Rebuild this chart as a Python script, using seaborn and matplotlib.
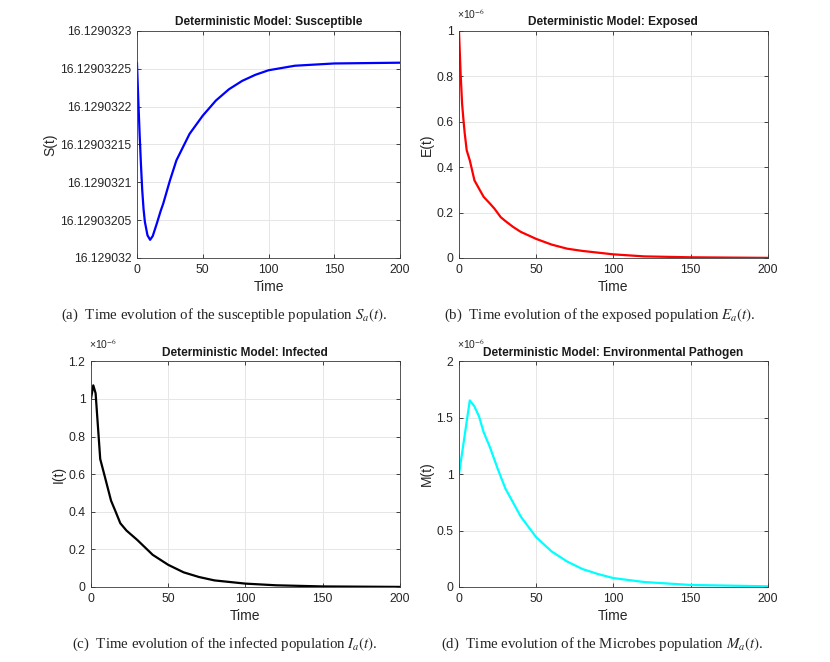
import numpy as np
import matplotlib
matplotlib.use("Agg")
import matplotlib.pyplot as plt
import seaborn as sns
from matplotlib.ticker import FuncFormatter

# time points
t_s = [0, 1, 2, 3, 4, 5, 6, 8, 10, 12, 15, 18, 20, 25, 30, 40, 50, 60, 70, 80, 90, 100, 120, 150, 200]
# S(t) above 16.129032, in units of 1e-8
s_off = [25.8, 21.0, 16.5, 12.5, 9.0, 6.5, 4.8, 3.0, 2.4, 2.9, 4.5, 6.2, 7.2, 10.2, 12.9, 16.4, 18.8, 20.8,
         22.3, 23.4, 24.2, 24.8, 25.4, 25.7, 25.8]
s_base = 16.129032

t_e = [0, 1, 2, 3, 3.7, 5, 7, 10, 13, 16, 20, 23, 27, 30, 35, 40, 50, 60, 70, 80, 100, 120, 150, 200]
e_vals = [1.0, 0.82, 0.68, 0.6, 0.55, 0.474, 0.43, 0.342, 0.305, 0.269, 0.24, 0.217, 0.18, 0.163, 0.137,
          0.115, 0.084, 0.059, 0.041, 0.031, 0.016, 0.007, 0.003, 0.0005]

t_i = [0, 1.5, 3, 6, 9, 13, 16, 19, 23, 30, 40, 50, 60, 70, 80, 100, 120, 150, 200]
i_vals = [1.0, 1.072, 1.03, 0.68, 0.586, 0.459, 0.40, 0.339, 0.30, 0.25, 0.171, 0.118, 0.078, 0.053, 0.035,
          0.018, 0.009, 0.003, 0.0005]

t_m = [0, 7, 10, 13, 16, 20, 25, 30, 40, 50, 60, 70, 80, 90, 100, 120, 150, 200]
m_vals = [1.0, 1.653, 1.6, 1.51, 1.37, 1.24, 1.05, 0.874, 0.624, 0.441, 0.315, 0.226, 0.159, 0.115, 0.079,
          0.044, 0.018, 0.006]

sns.set_style("ticks")
plt.rcParams['font.family'] = ['Liberation Sans', 'DejaVu Sans']
plt.rcParams['mathtext.fontset'] = 'stix'

fig = plt.figure(figsize=(8.3, 6.62), dpi=100)
ax_s = fig.add_axes([0.165, 0.6103, 0.317, 0.343])
ax_e = fig.add_axes([0.553, 0.6103, 0.372, 0.343])
ax_i = fig.add_axes([0.1096, 0.1133, 0.372, 0.341])
ax_m = fig.add_axes([0.553, 0.1133, 0.372, 0.341])

panels = [
    (ax_s, t_s, [s_base + v * 1e-8 for v in s_off], "blue", "S(t)", "Deterministic Model: Susceptible"),
    (ax_e, t_e, e_vals, "red", "E(t)", "Deterministic Model: Exposed"),
    (ax_i, t_i, i_vals, "black", "I(t)", "Deterministic Model: Infected"),
    (ax_m, t_m, m_vals, "cyan", "M(t)", "Deterministic Model: Environmental Pathogen"),
]

for ax, t, y, col, ylab, title in panels:
    sns.lineplot(x=t, y=y, ax=ax, color=col, linewidth=1.6)
    ax.set_xlim(0, 200)
    ax.set_xticks([0, 50, 100, 150, 200])
    ax.grid(True, color='#e6e6e6', linewidth=0.7)
    ax.tick_params(direction='in', top=True, right=True, labelsize=8.7, length=3, pad=4,
                   color='#262626', labelcolor='#262626', width=0.6)
    for sp in ax.spines.values():
        sp.set_color('#3a3a3a')
        sp.set_linewidth(0.6)
    ax.set_xlabel("Time", fontsize=10, labelpad=3, color='#262626')
    ax.set_ylabel(ylab, fontsize=10, labelpad=2, color='#262626')
    ax.set_title(title, fontsize=8.6, fontweight='bold', pad=4, color='#1a1a1a')

# susceptible axis
s_ticks = [s_base + k * 5e-8 for k in range(7)]
ax_s.set_ylim(s_ticks[0], s_ticks[-1])
ax_s.set_yticks(s_ticks)
ax_s.yaxis.set_major_formatter(FuncFormatter(lambda v, p: ("%.8f" % v).rstrip('0').rstrip('.')))

g = FuncFormatter(lambda v, p: "%g" % round(v, 6))
ax_e.set_ylim(0, 1)
ax_e.set_yticks(np.arange(0, 1.01, 0.2))
ax_i.set_ylim(0, 1.2)
ax_i.set_yticks(np.arange(0, 1.21, 0.2))
ax_m.set_ylim(0, 2)
ax_m.set_yticks(np.arange(0, 2.01, 0.5))
for ax in (ax_e, ax_i, ax_m):
    ax.yaxis.set_major_formatter(g)
    ax.text(-0.005, 1.075, "×10$^{-6}$", transform=ax.transAxes, ha='left', va='center',
            fontsize=7.5, color='#262626')

captions = [
    (0.27, 0.524, "(a)  Time evolution of the susceptible population $S_a(t)$."),
    (0.723, 0.524, "(b)  Time evolution of the exposed population $E_a(t)$."),
    (0.271, 0.026, "(c)  Time evolution of the infected population $I_a(t)$."),
    (0.725, 0.026, "(d)  Time evolution of the Microbes population $M_a(t)$."),
]
for x, y, txt in captions:
    fig.text(x, y, txt, ha='center', va='center', fontsize=10.7,
             family=['Liberation Serif', 'DejaVu Serif'])

fig.savefig("out.png", dpi=100)
